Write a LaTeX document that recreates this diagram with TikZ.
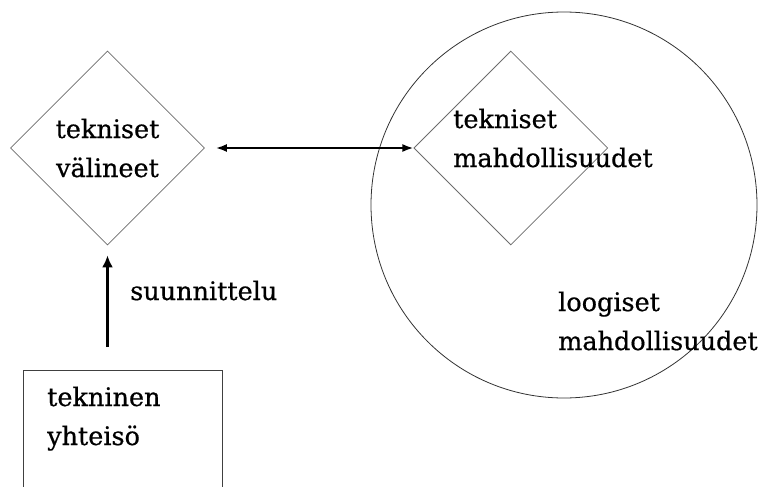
\documentclass[tikz,border=0pt]{standalone}
\usepackage{fontspec}
\setmainfont[FakeBold=0.6]{DejaVu Serif}
\usepackage{tikz}
\usetikzlibrary{shapes,arrows.meta,positioning}
\tikzstyle{choice} = [diamond, draw=gray!85!black, line width=0.8pt, inner sep=0pt,
    minimum width=194pt, minimum height=194pt, align=center]
\tikzstyle{plain} = [inner sep=0pt, align=left, anchor=base west]
\tikzstyle{area} = [circle, draw=black!80, line width=0.8pt, minimum size=386pt, inner sep=0pt]
\tikzstyle{box} = [rectangle, draw=black!75, line width=0.8pt, minimum width=199pt,
    minimum height=130pt, anchor=north west, inner sep=0pt]
\tikzstyle{line} = [draw, line width=3pt, -{Latex[length=12pt, width=11pt]}]
\tikzstyle{biline} = [draw, line width=2pt, {Latex[length=11pt, width=8pt]}-{Latex[length=11pt, width=8pt]}]

\begin{document}
\begin{tikzpicture}[x=1pt, y=-1pt, node distance=208.5pt, font=\fontsize{25.5}{39}\selectfont]
      \useasboundingbox (0,0) rectangle (760,487);
      \clip (0,0) rectangle (760,487);
      % Left side
      \node [choice] (tools) at (107.5,148) {tekniset\\välineet};
      \node [box] (community) at (23,370) {};
      \node [plain] (community-text) at (47,445) {tekninen\\yhteisö};
      \node [plain] (design) at (130,300) {suunnittelu};
      % Right side
      \node [area] (logic) at (564,205) {};
      \node [choice, right= of tools] (potential) {};
      \node [plain] (potential-text) at (453,167) {tekniset\\mahdollisuudet};
      \node [plain] (logic-text) at (558,350) {loogiset\\mahdollisuudet};
      % Draw edges
      \path [biline, shorten <=11pt] (tools.east) -- (potential.west);
      \path [line, shorten <=23pt, shorten >=10pt] (community.north -| tools.south) -- (tools.south);
  \end{tikzpicture}
\end{document}
